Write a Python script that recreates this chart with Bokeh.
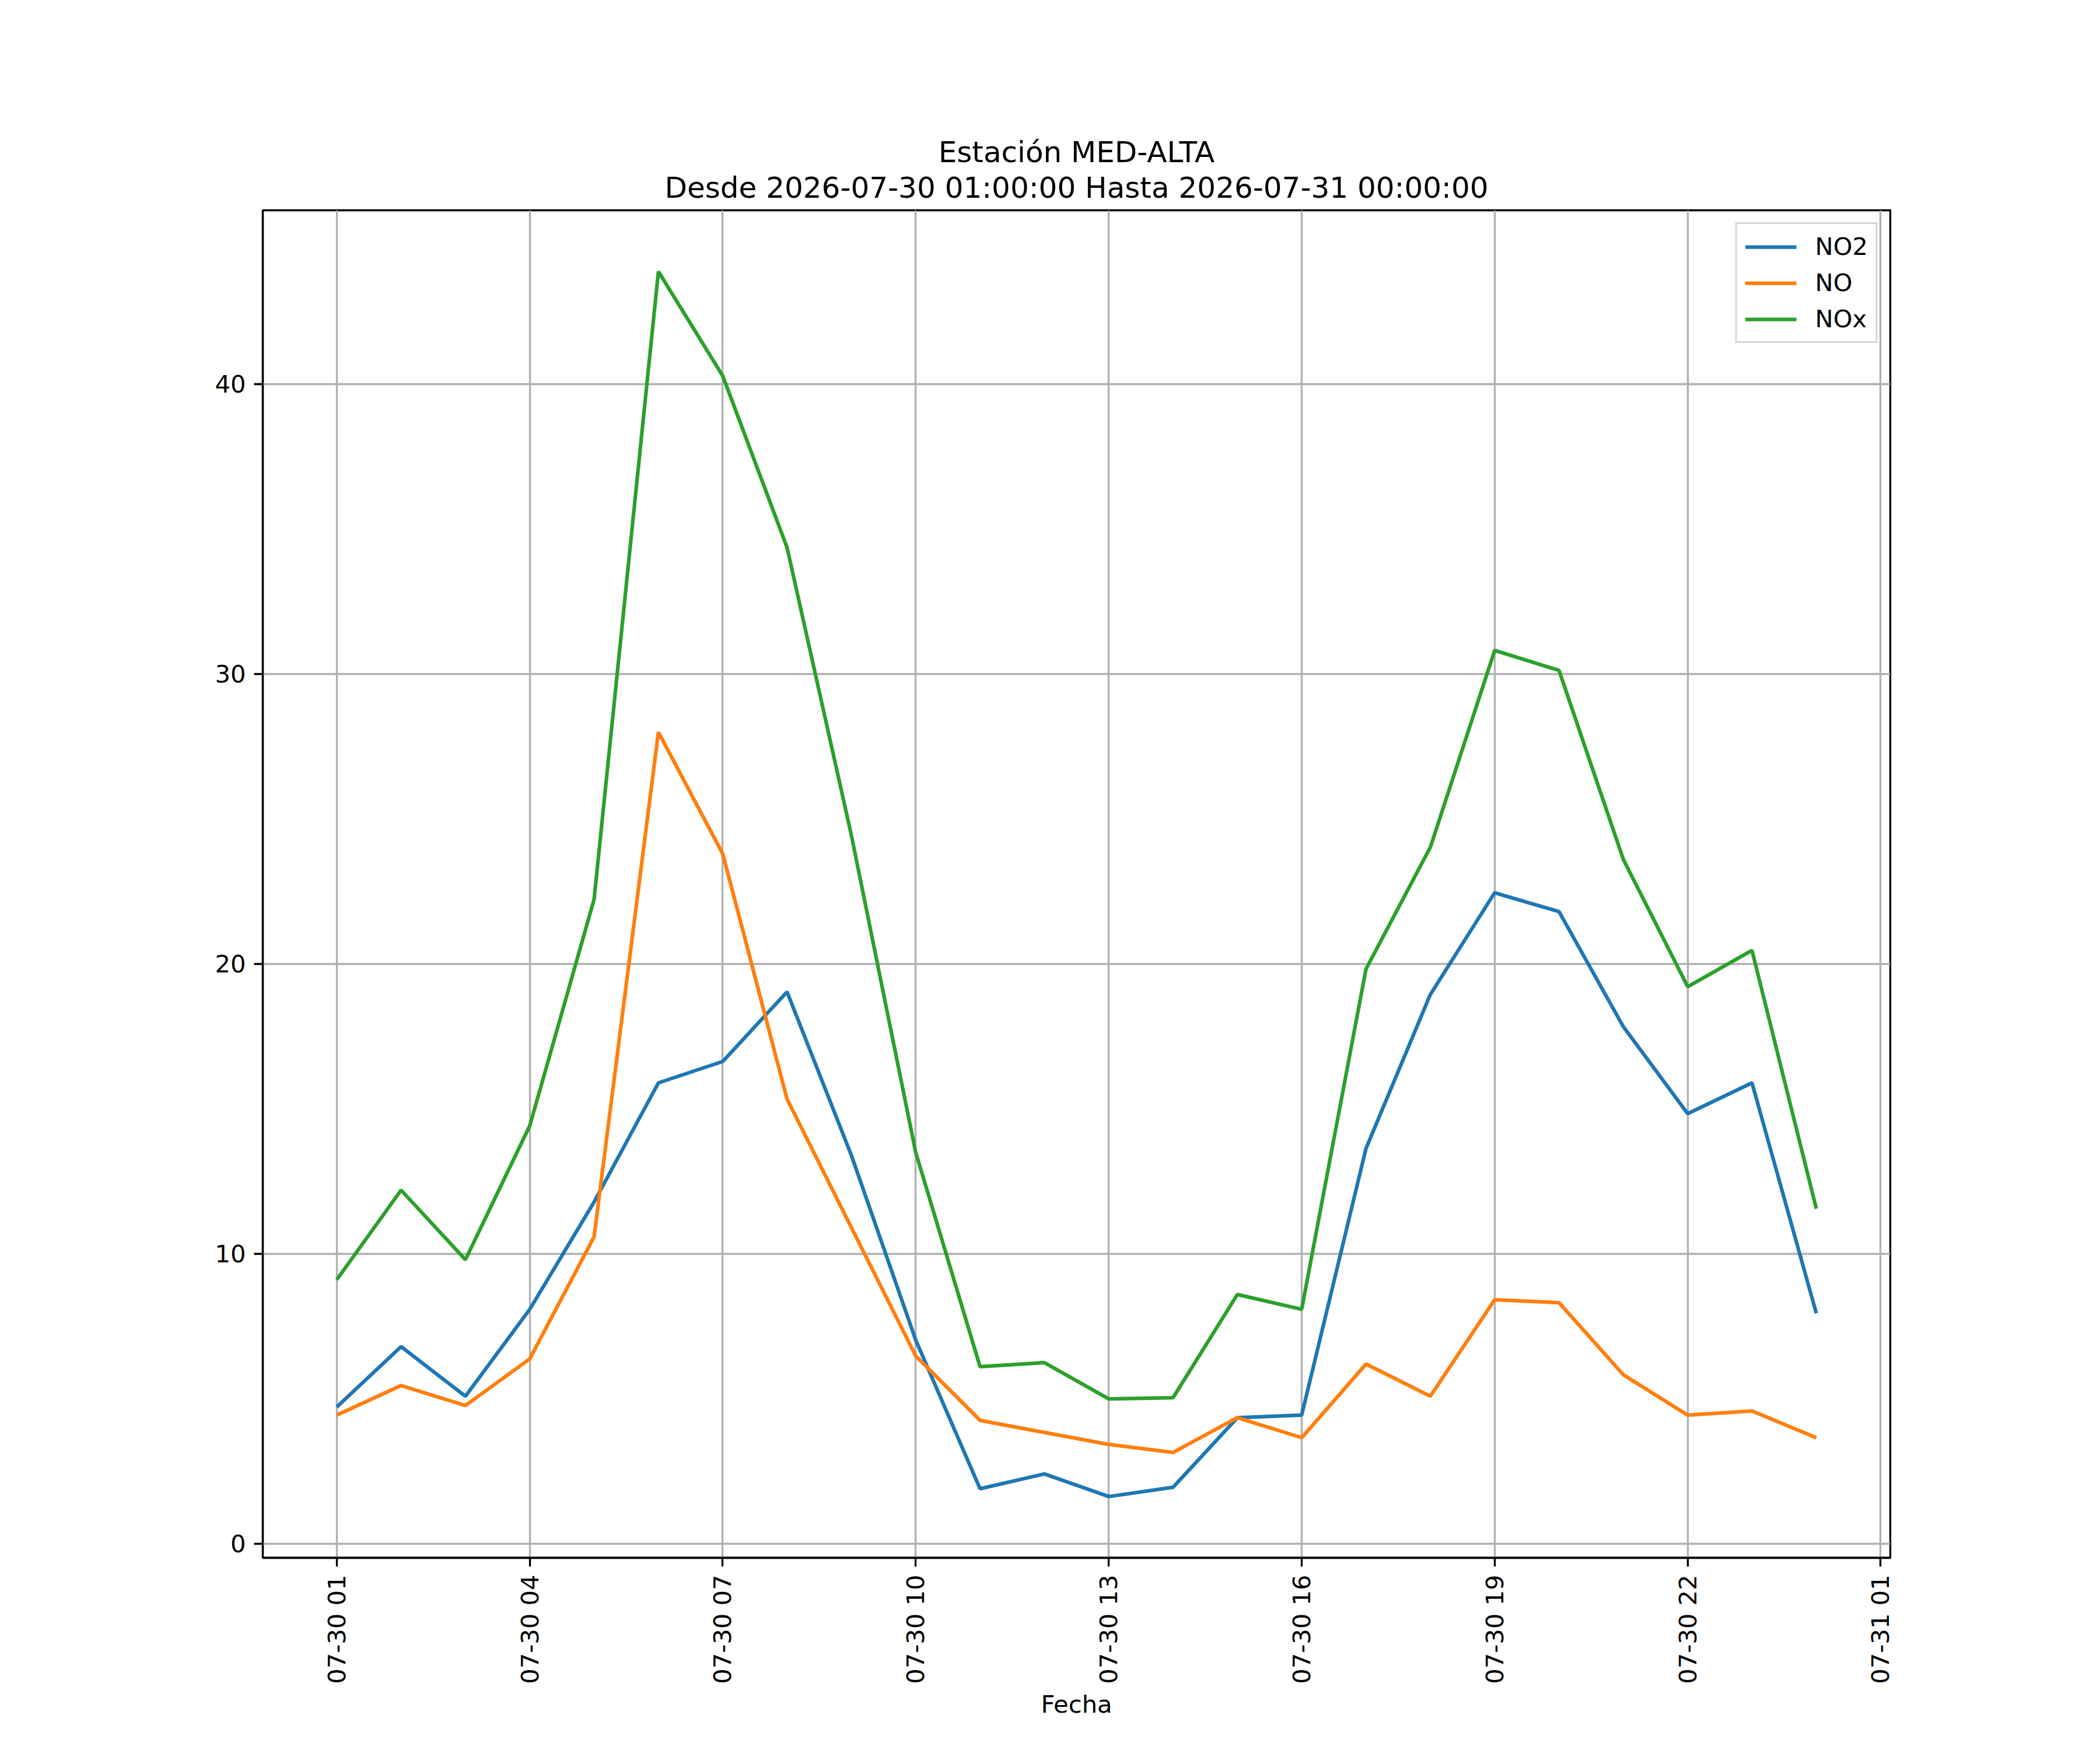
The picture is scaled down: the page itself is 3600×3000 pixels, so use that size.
import math
import pandas as pd
from bokeh.plotting import figure
from bokeh.models import Range1d, FixedTicker, DatetimeTickFormatter, Legend, LegendItem, Title
from bokeh.embed import file_html
from bokeh.resources import INLINE

# ---- data ----
start = "2026-07-30 01:00:00"
hours = pd.date_range(start, periods=24, freq="h")
no2 = [4.71, 6.79, 5.08, 8.08, 11.78, 15.89, 16.63, 19.03, 13.39, 7.02, 1.89, 2.40,
       1.62, 1.94, 4.34, 4.43, 13.63, 18.94, 22.45, 21.80, 17.83, 14.83, 15.89, 7.94]
no = [4.43, 5.45, 4.76, 6.37, 10.58, 27.99, 23.79, 15.33, 10.90, 6.47, 4.25, 3.83,
      3.42, 3.14, 4.34, 3.65, 6.19, 5.08, 8.41, 8.31, 5.82, 4.43, 4.57, 3.65]
nox = [9.10, 12.19, 9.79, 14.41, 22.22, 43.88, 40.28, 34.36, 24.43, 13.49, 6.10, 6.24,
       4.99, 5.03, 8.59, 8.08, 19.82, 24.02, 30.81, 30.12, 23.60, 19.21, 20.46, 11.55]
series_names = ["NO2", "NO", "NOx"]
series_colors = ["#1f77b4", "#ff7f0e", "#2ca02c"]
y_ticks = [0, 10, 20, 30, 40]
title_lines = ["Estación MED-ALTA", "Desde 2026-07-30 01:00:00 Hasta 2026-07-31 00:00:00"]
x_label = "Fecha"

W, H = 3584, 2984
FONT = "DejaVu Sans"
fs = "41.67px"

# ranges with matplotlib-like 5% margins
t0 = hours[0]
t1 = hours[-1]
span = t1 - t0
pad = span * 0.05
ymin = min(min(no2), min(no), min(nox))
ymax = max(max(no2), max(no), max(nox))
ypad = (ymax - ymin) * 0.05

p = figure(width=W, height=H, x_axis_type="datetime", output_backend="svg",
           toolbar_location=None,
           x_range=Range1d(t0 - pad, t1 + pad),
           y_range=Range1d(ymin - ypad, ymax + ypad),
           min_border_left=450, min_border_right=W - 3240,
           min_border_top=360, min_border_bottom=H - 2670)
p.background_fill_color = "white"
p.border_fill_color = "white"
p.outline_line_color = "black"
p.outline_line_width = 3.3

renderers = []
for name, col, ys in zip(series_names, series_colors, [no2, no, nox]):
    r = p.line(list(hours), ys, line_color=col, line_width=6.25)
    renderers.append((name, r))

# ticks
xt = pd.date_range(start, periods=9, freq="3h")
p.xaxis.ticker = FixedTicker(ticks=[t.value / 1e6 for t in xt])
fmt = "%m-%d %H"
p.xaxis.formatter = DatetimeTickFormatter(hours=fmt, days=fmt, hourmin=fmt, minutes=fmt,
                                          months=fmt, years=fmt, minsec=fmt, seconds=fmt)
p.xaxis.major_label_orientation = math.pi / 2
p.yaxis.ticker = FixedTicker(ticks=y_ticks)

for ax in [p.xaxis[0], p.yaxis[0]]:
    ax.major_label_text_font = FONT
    ax.major_label_text_font_size = fs
    ax.major_label_text_color = "black"
    ax.major_tick_out = 15
    ax.major_tick_in = 0
    ax.major_tick_line_width = 3.3
    ax.major_tick_line_color = "black"
    ax.minor_tick_out = 0
    ax.minor_tick_in = 0
    ax.axis_line_width = 3.3
    ax.axis_line_color = "black"
    ax.major_label_standoff = 14

p.xaxis.axis_label = x_label
p.xaxis.axis_label_text_font = FONT
p.xaxis.axis_label_text_font_size = fs
p.xaxis.axis_label_text_font_style = "normal"
p.xaxis.axis_label_text_color = "black"
p.xaxis.axis_label_standoff = 7

for g in [p.xgrid[0], p.ygrid[0]]:
    g.grid_line_color = "#b0b0b0"
    g.grid_line_width = 3.3

# title (two lines), added bottom-up
for i, txt in enumerate(reversed(title_lines)):
    t = Title(text=txt, align="center", text_font=FONT, text_font_size="50px",
              text_font_style="normal", text_color="black",
              standoff=(19 if i == 0 else -16), offset=0)
    p.add_layout(t, "above")

legend = Legend(items=[LegendItem(label=n, renderers=[r]) for n, r in renderers],
                location="top_right", margin=21, padding=14,
                spacing=13, label_text_font=FONT, label_text_font_size=fs,
                label_text_color="black",
                glyph_width=88, glyph_height=46, label_height=46,
                label_standoff=32, border_line_color="#cccccc", border_line_width=3.3,
                border_line_alpha=0.8, background_fill_alpha=0.8)
p.add_layout(legend)

open("out.html", "w").write(file_html(p, INLINE))
